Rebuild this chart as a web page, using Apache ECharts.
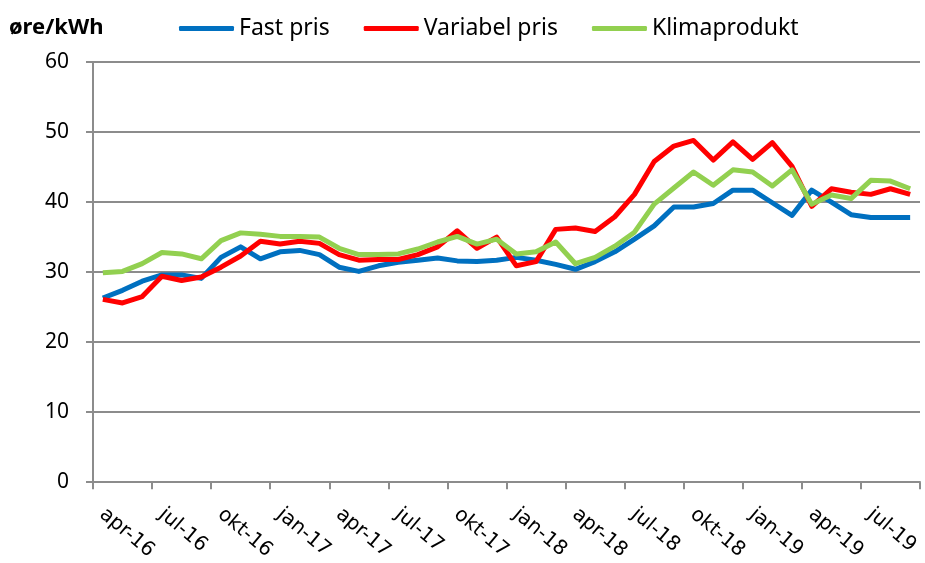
<!DOCTYPE html>
<html>
<head>
<meta charset="utf-8">
<script src="https://cdn.jsdelivr.net/npm/echarts@6/dist/echarts.min.js"></script>
<style>
html,body{margin:0;padding:0;background:#fff;}
#chart{width:925px;height:563px;}
</style>
</head>
<body>
<div id="chart"></div>
<script>
// Monthly categories: apr-16 .. sep-19
const months = ['apr-16','mai-16','jun-16','jul-16','aug-16','sep-16','okt-16','nov-16','des-16',
  'jan-17','feb-17','mar-17','apr-17','mai-17','jun-17','jul-17','aug-17','sep-17','okt-17','nov-17','des-17',
  'jan-18','feb-18','mar-18','apr-18','mai-18','jun-18','jul-18','aug-18','sep-18','okt-18','nov-18','des-18',
  'jan-19','feb-19','mar-19','apr-19','mai-19','jun-19','jul-19','aug-19','sep-19'];

const tickLabels = ['apr-16','jul-16','okt-16','jan-17','apr-17','jul-17','okt-17',
  'jan-18','apr-18','jul-18','okt-18','jan-19','apr-19','jul-19'];

const fastPris = [26.3,27.4,28.7,29.6,29.6,29.1,32.1,33.6,31.9,32.9,33.1,32.5,30.7,30.1,30.9,31.4,31.7,32.0,31.6,31.5,31.7,
  32.1,31.7,31.1,30.4,31.5,32.9,34.7,36.6,39.3,39.3,39.8,41.7,41.7,39.9,38.1,41.7,40.0,38.2,37.8,37.8,37.8];

const variabelPris = [26.1,25.6,26.5,29.4,28.8,29.3,30.7,32.3,34.4,34.0,34.4,34.1,32.5,31.7,31.8,31.8,32.5,33.6,35.9,33.4,35.0,
  30.9,31.5,36.1,36.3,35.8,37.9,41.1,45.8,48.0,48.8,46.0,48.6,46.1,48.5,45.1,39.4,41.9,41.4,41.1,41.9,41.1];

const klimaprodukt = [29.9,30.1,31.2,32.8,32.6,31.9,34.5,35.6,35.4,35.1,35.1,35.0,33.4,32.5,32.5,32.6,33.3,34.3,35.1,34.0,34.7,
  32.6,32.9,34.3,31.2,32.1,33.7,35.7,39.7,42.0,44.3,42.4,44.6,44.3,42.3,44.6,39.7,41.0,40.5,43.1,43.0,41.9];

const seriesNames = ['Fast pris','Variabel pris','Klimaprodukt'];
const colors = ['#0070C0','#FF0000','#92D050'];

function toPoints(arr){ return arr.map((v,i)=>[i+0.5, v]); }

const chart = echarts.init(document.getElementById('chart'), null, {renderer:'canvas'});
const gray = '#8c8c8c';
chart.setOption({
  animation:false,
  backgroundColor:'#fff',
  title:{
    text:'øre/kWh', left:9, top:17, padding:0,
    textStyle:{fontFamily:'Noto Sans', fontWeight:'bold', fontSize:22, color:'#000'}
  },
  legend:{
    left:179, top:17, padding:0,
    itemWidth:55, itemHeight:5, itemGap:34,
    icon:'roundRect',
    textStyle:{fontFamily:'Noto Sans', fontSize:23, color:'#000'},
    data:seriesNames
  },
  grid:{left:93, right:5, top:62, bottom:79, containLabel:false},
  xAxis:{
    type:'value', min:0, max:months.length, interval:3,
    axisLine:{show:true, lineStyle:{color:gray, width:2}},
    axisTick:{show:true, length:7, lineStyle:{color:gray, width:2}},
    splitLine:{show:false},
    axisLabel:{
      rotate:-40, margin:22, padding:[0,0,0,12],
      fontFamily:'DejaVu Sans', fontSize:20, color:'#000',
      formatter:function(v){ return tickLabels[Math.round(v/3)] || ''; }
    }
  },
  yAxis:{
    type:'value', min:0, max:60, interval:10,
    axisLine:{show:true, lineStyle:{color:gray, width:2}},
    axisTick:{show:true, length:7, lineStyle:{color:gray, width:2}},
    splitLine:{show:true, lineStyle:{color:gray, width:2}},
    axisLabel:{margin:24, fontFamily:'Noto Sans', fontSize:21, color:'#000'}
  },
  series:[fastPris, variabelPris, klimaprodukt].map((arr,k)=>({
    name:seriesNames[k], type:'line', data:toPoints(arr),
    symbol:'none', color:colors[k],
    lineStyle:{width:5, color:colors[k], join:'round'}
  }))
});
</script>
</body>
</html>
